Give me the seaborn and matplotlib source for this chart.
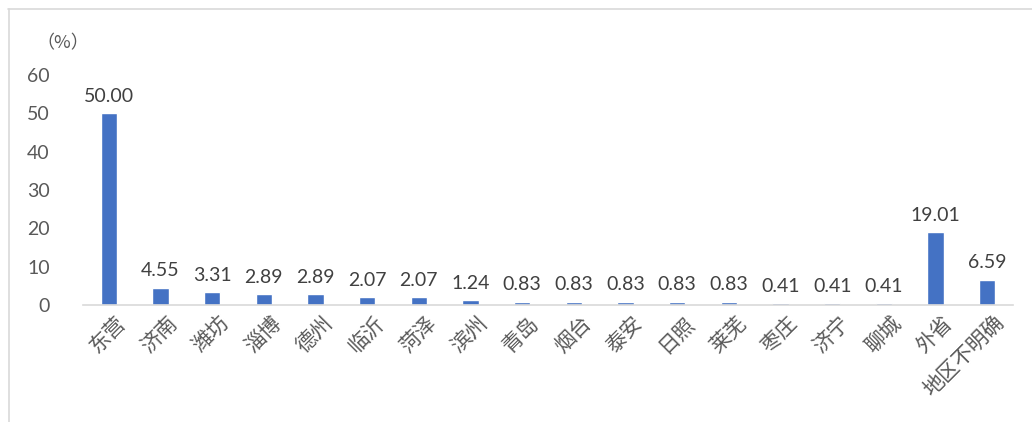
import matplotlib
matplotlib.use("Agg")
import matplotlib.pyplot as plt
import matplotlib.transforms as mtransforms
import seaborn as sns
import pandas as pd

categories = ["东营", "济南", "潍坊", "淄博", "德州", "临沂", "菏泽", "滨州", "青岛",
              "烟台", "泰安", "日照", "莱芜", "枣庄", "济宁", "聊城", "外省", "地区不明确"]
values = [50.00, 4.55, 3.31, 2.89, 2.89, 2.07, 2.07, 1.24, 0.83,
          0.83, 0.83, 0.83, 0.83, 0.41, 0.41, 0.41, 19.01, 6.59]
yticks = [0, 10, 20, 30, 40, 50, 60]

sns.set_theme(style="white")
plt.rcParams['font.family'] = ['Lato', 'Noto Sans CJK SC', 'DejaVu Sans']

df = pd.DataFrame({"cat": categories, "val": values})

fig = plt.figure(figsize=(10.32, 4.22), dpi=100)
ax = fig.add_axes([83/1032, 1-305/422, (1013-83)/1032, (305-75)/422])
sns.barplot(data=df, x="cat", y="val", color="#4472C4", width=0.31, ax=ax,
            saturation=1, order=categories)

ax.set_ylim(0, 60)
ax.set_yticks(yticks)
ax.set_yticklabels([str(t) for t in yticks], fontsize=14, color="#595959")
ax.tick_params(axis='y', length=0, pad=24)
ax.tick_params(axis='x', length=0, pad=5)
ax.set_xlabel("")
ax.set_ylabel("")
for s in ["top", "right", "left"]:
    ax.spines[s].set_visible(False)
ax.spines["bottom"].set_color("#d9d9d9")
ax.spines["bottom"].set_linewidth(1.2)

ax.set_xticks(range(len(categories)))
ax.set_xticklabels(categories, rotation=45, ha="right", va="top",
                   rotation_mode="anchor", fontsize=15, color="#595959",
                   family=['Noto Sans CJK SC', 'DejaVu Sans'])
offset = mtransforms.ScaledTranslation(6/100, 0, fig.dpi_scale_trans)
for lbl in ax.get_xticklabels():
    lbl.set_transform(lbl.get_transform() + offset)

for c in ax.containers:
    ax.bar_label(c, labels=[f"{v:.2f}" for v in values], padding=6,
                 fontsize=14, color="#404040")

fig.text(36/1032, 1-43/422, "（%）", fontsize=13, color="#595959", va="center",
         family=['Noto Sans CJK SC', 'DejaVu Sans'])

# chart frame
fig.add_artist(plt.Line2D([8/1032, 1], [1-9/422, 1-9/422], color="#d9d9d9", lw=1.2))
fig.add_artist(plt.Line2D([9/1032, 9/1032], [0, 1-9/422], color="#d9d9d9", lw=1.2))

fig.savefig("out.png", dpi=100)
